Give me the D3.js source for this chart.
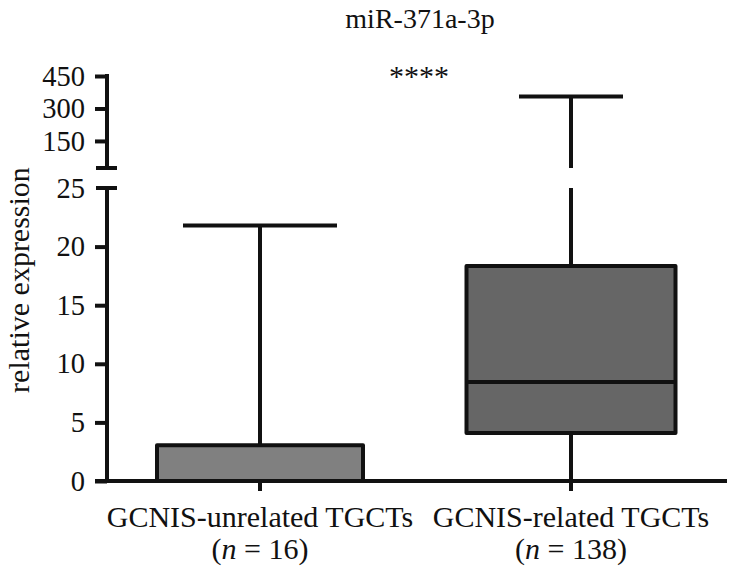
<head>
<meta charset="utf-8">
<style>
 body { margin: 0; background: #ffffff; }
 text { font-family: "Liberation Serif", "DejaVu Serif", serif; fill: #111; }
</style>
</head>
<body>
<script src="https://d3js.org/d3.v7.min.js"></script>
<div id="chart"></div>
<script>
// data
var groups = ["GCNIS-unrelated TGCTs", "GCNIS-related TGCTs"]
var nLabels = ["16", "138"]
var mins = [0, 0]
var q1s = [0, 4.1]
var medians = [0, 8.45]
var q3s = [3.05, 18.35]
var maxs = [21.8, 355]
var fills = ["#808080", "#666666"]

var lowTicks = [0, 5, 10, 15, 20, 25]
var highTicks = [150, 300, 450]
var breakAt = 25

var width = 729, height = 567

var svg = d3.select("#chart").append("svg")
  .attr("width", width)
  .attr("height", height)

var axisX = 107

var x = d3.scaleBand()
  .domain(groups)
  .range([axisX, 727])
  .paddingInner(0.0)
  .paddingOuter(0.0)

// broken y axis: two linear pieces
var yLow = d3.scaleLinear().domain([0, 25]).range([481, 188])
var yHigh = d3.scaleLinear().domain([25, 450]).range([168, 76])

function y(v) { return v <= breakAt ? yLow(v) : yHigh(v) }

var lw = 4

// lower axis
var gLow = svg.append("g").attr("transform", "translate(" + axisX + ",0)")
  .call(d3.axisLeft(yLow).tickValues(lowTicks).tickSize(12).tickPadding(10).tickFormat(d3.format("d")))
var gHigh = svg.append("g").attr("transform", "translate(" + axisX + ",0)")
  .call(d3.axisLeft(yHigh).tickValues(highTicks).tickSize(12).tickPadding(10).tickSizeOuter(0).tickFormat(d3.format("d")))

;[gLow, gHigh].forEach(function(g) {
  g.select(".domain").remove()
  g.selectAll(".tick line").attr("stroke", "#111").attr("stroke-width", lw)
  g.selectAll(".tick text").style("font-size", "28.5px").style("font-family", "Liberation Serif").attr("fill", "#111")
})
gLow.select(".tick:last-of-type line").remove()

// axis spines with caps at the break
svg.append("line").attr("x1", axisX).attr("x2", axisX)
  .attr("y1", yLow(breakAt)).attr("y2", yLow(0) + lw / 2)
  .attr("stroke", "#111").attr("stroke-width", lw)
svg.append("line").attr("x1", axisX - 11).attr("x2", axisX + 10)
  .attr("y1", yLow(breakAt)).attr("y2", yLow(breakAt))
  .attr("stroke", "#111").attr("stroke-width", lw)
svg.append("line").attr("x1", axisX).attr("x2", axisX)
  .attr("y1", yHigh(450) - lw / 2).attr("y2", yHigh(breakAt))
  .attr("stroke", "#111").attr("stroke-width", lw)
svg.append("line").attr("x1", axisX - 11).attr("x2", axisX + 10)
  .attr("y1", yHigh(breakAt)).attr("y2", yHigh(breakAt))
  .attr("stroke", "#111").attr("stroke-width", lw)

var boxW = [206, 209]
var capW = [154, 104]

groups.forEach(function(g, i) {
  var cx = x(g) + x.bandwidth() / 2 + (i === 0 ? -2 : -1)
  // category tick
  svg.append("line").attr("x1", cx).attr("x2", cx)
    .attr("y1", yLow(0)).attr("y2", yLow(0) + 10)
    .attr("stroke", "#111").attr("stroke-width", lw)

  // whiskers
  if (maxs[i] > breakAt) {
    svg.append("line").attr("x1", cx).attr("x2", cx)
      .attr("y1", yLow(q3s[i])).attr("y2", yLow(breakAt))
      .attr("stroke", "#111").attr("stroke-width", lw)
    svg.append("line").attr("x1", cx).attr("x2", cx)
      .attr("y1", yHigh(breakAt)).attr("y2", yHigh(maxs[i]))
      .attr("stroke", "#111").attr("stroke-width", lw)
  } else {
    svg.append("line").attr("x1", cx).attr("x2", cx)
      .attr("y1", y(q3s[i])).attr("y2", y(maxs[i]))
      .attr("stroke", "#111").attr("stroke-width", lw)
  }
  svg.append("line").attr("x1", cx).attr("x2", cx)
    .attr("y1", y(mins[i])).attr("y2", y(q1s[i]))
    .attr("stroke", "#111").attr("stroke-width", lw)
  svg.append("line").attr("x1", cx - capW[i] / 2).attr("x2", cx + capW[i] / 2)
    .attr("y1", y(maxs[i])).attr("y2", y(maxs[i]))
    .attr("stroke", "#111").attr("stroke-width", lw)

  // box
  svg.append("rect")
    .attr("x", cx - boxW[i] / 2)
    .attr("y", y(q3s[i]))
    .attr("width", boxW[i])
    .attr("height", y(q1s[i]) - y(q3s[i]))
    .attr("fill", fills[i])
    .attr("stroke", "#111").attr("stroke-width", lw)
    .attr("stroke-linejoin", "round")
  svg.append("line").attr("x1", cx - boxW[i] / 2).attr("x2", cx + boxW[i] / 2)
    .attr("y1", y(medians[i])).attr("y2", y(medians[i]))
    .attr("stroke", "#111").attr("stroke-width", lw)

  // labels
  svg.append("text").attr("x", cx).attr("y", 527)
    .attr("text-anchor", "middle").style("font-size", "30px")
    .text(g)
  var t = svg.append("text").attr("x", cx).attr("y", 559)
    .attr("text-anchor", "middle").style("font-size", "30px")
  t.append("tspan").text("(")
  t.append("tspan").style("font-style", "italic").text("n")
  t.append("tspan").text(" = " + nLabels[i] + ")")
})

// x axis on top of box bottoms
svg.append("line").attr("x1", axisX - 12).attr("x2", 727)
  .attr("y1", yLow(0)).attr("y2", yLow(0))
  .attr("stroke", "#111").attr("stroke-width", lw)

// title, y label, significance
svg.append("text").attr("x", 420).attr("y", 28)
  .attr("text-anchor", "middle").style("font-size", "28px")
  .text("miR-371a-3p")

svg.append("text")
  .attr("transform", "translate(29,280) rotate(-90)")
  .attr("text-anchor", "middle").style("font-size", "30px")
  .text("relative expression")

svg.append("text").attr("x", 419).attr("y", 86)
  .attr("text-anchor", "middle").style("font-size", "30px")
  .text("****")
</script>
</body>
